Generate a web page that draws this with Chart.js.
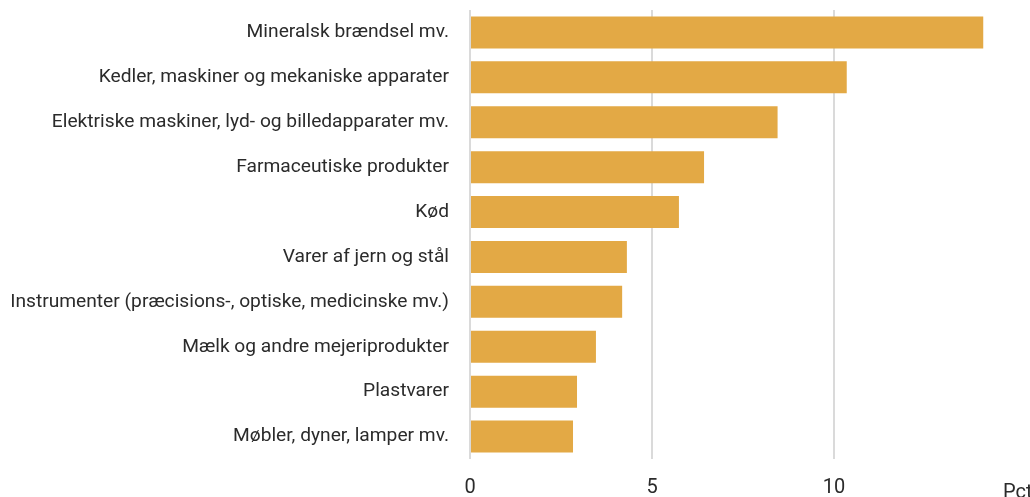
<!DOCTYPE html>
<html>
<head>
<meta charset="utf-8">
<script src="https://cdn.jsdelivr.net/npm/chart.js@4"></script>
<style>
    html, body { margin: 0; padding: 0; background: #fff; }
    #wrap { width: 1030px; height: 497px; }
</style>
</head>
<body>
<div id="wrap"><canvas id="exportChart"></canvas></div>
<script>
// Varegrupper og andele (pct.)
var categories = [
    'Mineralsk brændsel mv.',
    'Kedler, maskiner og mekaniske apparater',
    'Elektriske maskiner, lyd- og billedapparater mv.',
    'Farmaceutiske produkter',
    'Kød',
    'Varer af jern og stål',
    'Instrumenter (præcisions-, optiske, medicinske mv.)',
    'Mælk og andre mejeriprodukter',
    'Plastvarer',
    'Møbler, dyner, lamper mv.'
];
var shares = [14.1, 10.35, 8.45, 6.43, 5.74, 4.31, 4.18, 3.46, 2.94, 2.83];
var xTicks = [0, 5, 10];
var unitLabel = 'Pct.';

var fontFamily = "Roboto, sans-serif";

// Tekst "Pct." nederst til højre
var unitPlugin = {
    id: 'unitLabel',
    afterDraw: function (chart) {
        var ctx = chart.ctx;
        ctx.save();
        ctx.font = '20px ' + fontFamily;
        ctx.fillStyle = '#2b2b2b';
        ctx.textAlign = 'left';
        ctx.textBaseline = 'alphabetic';
        ctx.fillText(unitLabel, chart.chartArea.right - 13, 498);
        ctx.restore();
    }
};

document.addEventListener("DOMContentLoaded", function () {
    var ctx = document.getElementById('exportChart').getContext('2d');
    new Chart(ctx, {
        type: 'bar',
        data: {
            labels: categories,
            datasets: [{
                data: shares,
                backgroundColor: '#E3A945',
                borderWidth: 0,
                categoryPercentage: 0.713,
                barPercentage: 1
            }]
        },
        options: {
            indexAxis: 'y',
            responsive: true,
            maintainAspectRatio: false,
            animation: false,
            layout: { padding: { top: 10, right: 14, left: 0, bottom: 0 } },
            plugins: {
                legend: { display: false },
                tooltip: { enabled: false }
            },
            scales: {
                x: {
                    min: 0,
                    max: 15,
                    afterBuildTicks: function (scale) {
                        scale.ticks = xTicks.map(function (v) { return { value: v }; });
                    },
                    border: { display: false },
                    grid: {
                        color: '#dadada',
                        lineWidth: 2,
                        drawTicks: false
                    },
                    ticks: {
                        color: '#2b2b2b',
                        font: { family: fontFamily, size: 20 },
                        padding: 17
                    },
                    afterFit: function (scale) {
                        scale.height = 38;
                        scale.paddingLeft = 0;
                        scale.paddingRight = 0;
                    }
                },
                y: {
                    border: { display: false },
                    grid: { display: false, drawTicks: false },
                    ticks: {
                        color: '#2b2b2b',
                        font: { family: fontFamily, size: 19.2 },
                        padding: 21
                    },
                    afterFit: function (scale) {
                        scale.width = 470;
                        scale.paddingTop = 0;
                        scale.paddingBottom = 0;
                    }
                }
            }
        },
        plugins: [unitPlugin]
    });
});
</script>
</body>
</html>
